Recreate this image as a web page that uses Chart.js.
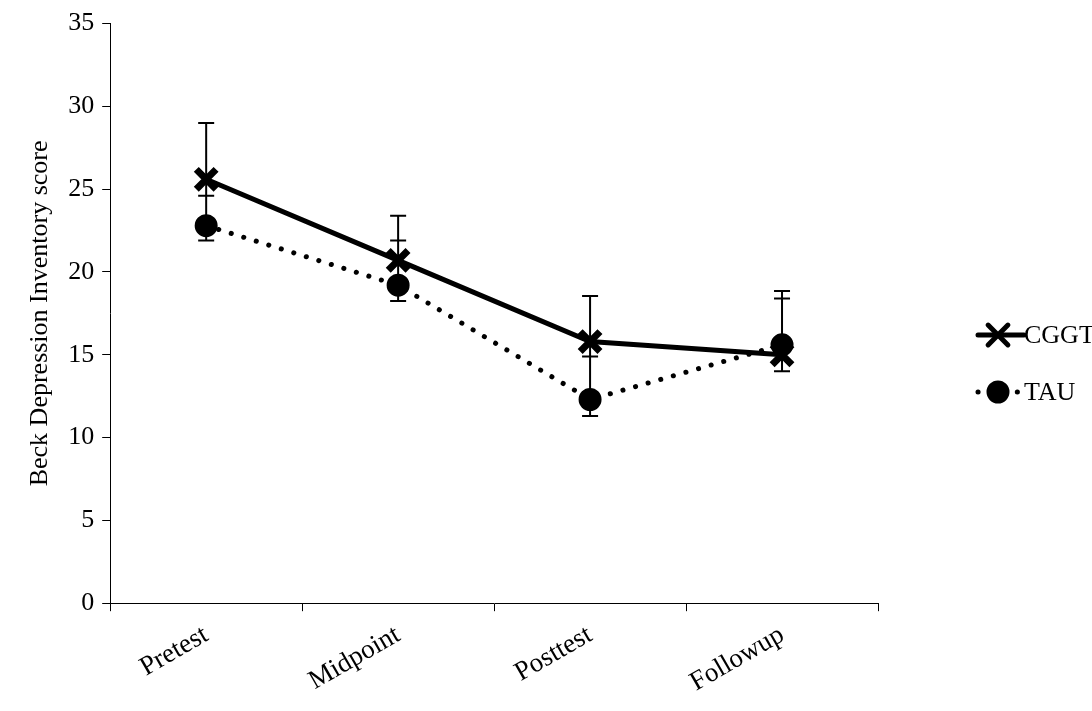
<!DOCTYPE html>
<html>
<head>
<meta charset="utf-8">
<script src="https://cdn.jsdelivr.net/npm/chart.js@4"></script>
<style>
  body { margin: 0; background: #fff; }
  #wrap { width: 1092px; height: 711px; }
</style>
</head>
<body>
<div id="wrap"><canvas id="bdiChart"></canvas></div>
<script>
const phases = ["Pretest", "Midpoint", "Posttest", "Followup"];
const cggt = [25.6, 20.7, 15.8, 15.0];
const tau = [22.8, 19.2, 12.3, 15.6];
// error bar ends
const cggtLow = [24.6, 21.9, 14.9, 14.0];
const cggtHigh = [29.0, 23.4, 18.55, 18.4];
const tauLow = [21.9, 18.25, 11.3, 15.6];
const tauHigh = [22.8, 19.2, 12.3, 18.85];
const yTicks = [0, 5, 10, 15, 20, 25, 30, 35];

const FONT = "'Liberation Serif', 'Times New Roman', serif";

const errorBars = {
  id: "errorBars",
  afterDatasetsDraw(chart) {
    const { ctx, scales } = chart;
    ctx.save();
    ctx.strokeStyle = "#000";
    ctx.lineWidth = 2;
    phases.forEach((p, i) => {
      const x = scales.x.getPixelForValue(i);
      const ends = [cggtLow[i], cggtHigh[i], tauLow[i], tauHigh[i]];
      const top = scales.y.getPixelForValue(Math.max(...ends));
      const bot = scales.y.getPixelForValue(Math.min(...ends));
      ctx.beginPath();
      ctx.moveTo(x, top); ctx.lineTo(x, bot);
      ends.forEach((v) => {
        const y = scales.y.getPixelForValue(v);
        ctx.moveTo(x - 8, y); ctx.lineTo(x + 8, y);
      });
      ctx.stroke();
    });
    ctx.restore();
  }
};

const sideLegend = {
  id: "sideLegend",
  afterDraw(chart) {
    const { ctx } = chart;
    const items = [
      { label: "CGGT", y: 335, dash: [], style: "crossRot", r: 14 },
      { label: "TAU", y: 392, dash: [0.1, 13], style: "circle", r: 9 }
    ];
    ctx.save();
    items.forEach((it) => {
      ctx.strokeStyle = "#000";
      ctx.fillStyle = "#000";
      ctx.lineWidth = 5;
      ctx.lineCap = "round";
      ctx.setLineDash(it.dash);
      ctx.beginPath();
      ctx.moveTo(978, it.y); ctx.lineTo(1024, it.y);
      ctx.stroke();
      ctx.setLineDash([]);
      Chart.helpers.drawPoint(ctx, { pointStyle: it.style, radius: it.r, borderWidth: 7 }, 998, it.y);
      ctx.font = "26px " + FONT;
      ctx.textBaseline = "middle";
      ctx.fillText(it.label, 1024, it.y + 1);
    });
    ctx.restore();
  }
};

new Chart(document.getElementById("bdiChart"), {
  type: "line",
  data: {
    labels: phases,
    datasets: [
      {
        label: "CGGT",
        data: cggt,
        borderColor: "#000",
        backgroundColor: "#000",
        borderWidth: 5,
        pointStyle: "crossRot",
        pointRadius: 14,
        pointBorderWidth: 7,
        pointHoverRadius: 14
      },
      {
        label: "TAU",
        data: tau,
        borderColor: "#000",
        backgroundColor: "#000",
        borderWidth: 5,
        borderDash: [0.1, 13],
        borderCapStyle: "round",
        pointStyle: "circle",
        pointRadius: 9,
        pointHoverRadius: 9
      }
    ]
  },
  options: {
    responsive: true,
    maintainAspectRatio: false,
    animation: false,
    layout: { padding: { left: 21, right: 214, top: 10, bottom: 4 } },
    plugins: { legend: { display: false }, tooltip: { enabled: false } },
    scales: {
      x: {
        offset: true,
        grid: { display: true, drawOnChartArea: false, color: "#000", tickLength: 8, offset: true },
        border: { color: "#000", width: 1 },
        ticks: { color: "#000", font: { family: FONT, size: 27 }, maxRotation: 30, minRotation: 30, padding: 8 }
      },
      y: {
        min: 0,
        max: 35,
        afterBuildTicks(axis) { axis.ticks = yTicks.map((v) => ({ value: v })); },
        grid: { display: true, drawOnChartArea: false, color: "#000", tickLength: 8 },
        border: { color: "#000", width: 1 },
        title: { display: true, text: "Beck Depression Inventory score", color: "#000", font: { family: FONT, size: 26 } },
        ticks: { color: "#000", font: { family: FONT, size: 26 }, padding: 8 }
      }
    }
  },
  plugins: [errorBars, sideLegend]
});
</script>
</body>
</html>
